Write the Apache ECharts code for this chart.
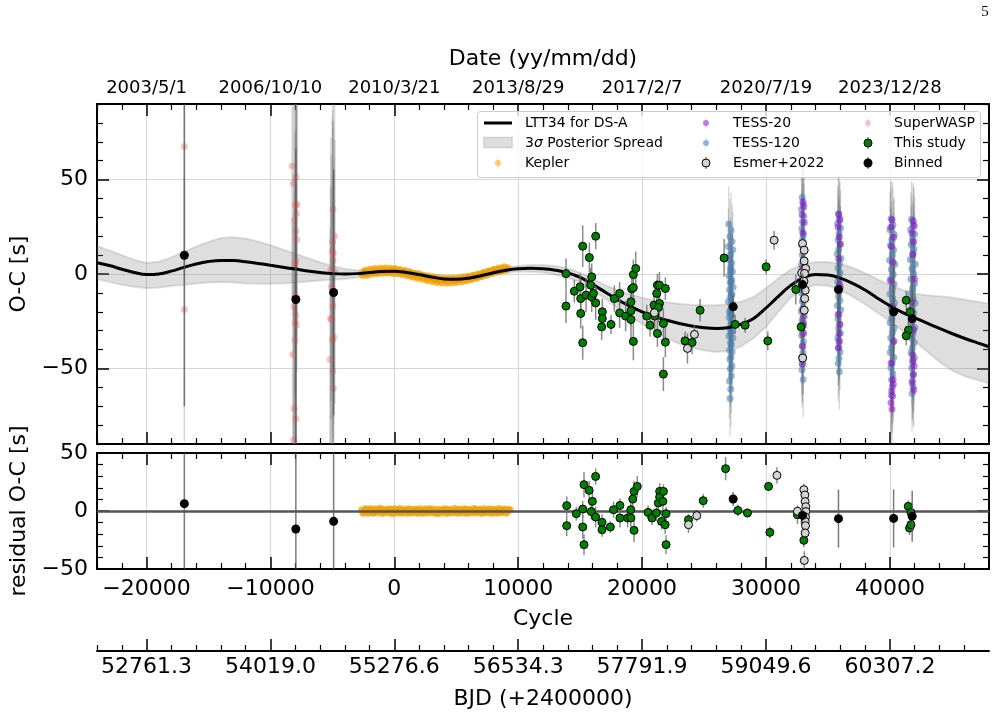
<!DOCTYPE html>
<html><head><meta charset="utf-8">
<script src="https://cdn.jsdelivr.net/npm/echarts@6/dist/echarts.min.js"></script>
<style>html,body{margin:0;padding:0;background:#fff}#c{width:1001px;height:721px}</style>
</head><body><div id="c"></div>
<script>
// ---------------- tick labels ----------------
const cycleMajor = [-20000,-10000,0,10000,20000,30000,40000];
const cycleMinor = [-24000,-22000,-18000,-16000,-14000,-12000,-8000,-6000,-4000,-2000,2000,4000,6000,8000,12000,14000,16000,18000,22000,24000,26000,28000,32000,34000,36000,38000,42000,44000,46000];
const dateLabels = ['2003/5/1','2006/10/10','2010/3/21','2013/8/29','2017/2/7','2020/7/19','2023/12/28'];
const bjdLabels = ['52761.3','54019.0','55276.6','56534.3','57791.9','59049.6','60307.2'];
const ocMajor = [-50,0,50];
const ocMinor = [-90,-80,-70,-60,-40,-30,-20,-10,10,20,30,40,60,70,80,90];
const resMajor = [-50,0,50];
const resMinor = [-40,-30,-20,-10,10,20,30,40];

// ---------------- model curve & 3-sigma band ----------------
const modelCycle = [-24000,-23000,-22000,-21000,-20000,-19000,-18000,-17000,-16000,-15000,-14000,-13000,-12000,-11000,-10000,-9000,-8000,-7000,-6000,-5000,-4000,-3000,-2000,-1000,0,1000,2000,3000,4000,5000,6000,7000,8000,9000,10000,11000,12000,13000,14000,15000,16000,17000,18000,19000,20000,21000,22000,23000,24000,25000,26000,27000,28000,29000,30000,31000,32000,33000,34000,35000,36000,37000,38000,39000,40000,41000,42000,43000,44000,45000,46000,47000,48000];
const modelOC = [6.0,4.5,2.5,0.8,-0.3,0.0,1.5,3.5,5.3,6.6,7.2,7.1,6.5,5.6,4.6,3.6,2.6,1.6,0.8,0.2,0.0,0.2,0.8,1.3,1.5,0.8,-0.3,-1.6,-2.6,-2.8,-2.2,-0.9,0.7,2.0,2.8,3.0,2.8,2.0,0.6,-1.8,-5.5,-9.5,-13.5,-17.0,-20.0,-22.5,-24.5,-26.2,-27.5,-28.4,-28.8,-28.3,-26.5,-23.5,-18.0,-11.8,-6.0,-2.0,-0.3,-0.5,-2.2,-5.0,-8.5,-12.8,-16.8,-20.3,-23.2,-26.0,-28.8,-31.5,-34.0,-36.3,-38.5];
const bandUpper = [14.8,12.5,10.0,7.5,5.8,6.5,8.8,11.7,14.5,17.0,19.0,19.5,18.8,17.2,15.3,13.0,10.8,8.5,6.2,4.3,2.8,2.0,2.3,2.7,2.9,2.3,1.2,-0.2,-1.2,-1.4,-0.8,0.5,2.1,3.4,4.3,4.8,4.8,4.2,3.0,0.6,-2.6,-5.8,-8.5,-10.8,-12.5,-14.0,-15.0,-15.8,-16.3,-16.6,-16.6,-16.0,-14.6,-12.2,-7.5,-2.2,2.3,5.0,6.4,6.4,5.5,3.3,0.5,-2.8,-5.8,-8.3,-10.4,-11.3,-11.8,-12.5,-13.5,-14.6,-15.8];
const bandLower = [-2.7,-4.3,-5.7,-6.8,-7.5,-7.2,-6.4,-5.8,-5.0,-4.5,-4.3,-4.5,-5.0,-5.2,-5.2,-5.0,-4.5,-4.0,-3.5,-3.0,-2.6,-1.8,-0.7,-0.1,0.1,-0.7,-1.8,-3.0,-4.0,-4.2,-3.6,-2.3,-0.7,0.6,1.3,1.2,0.8,-0.4,-2.0,-4.5,-8.5,-13.0,-18.0,-22.5,-26.5,-30.5,-34.0,-37.0,-39.0,-40.5,-41.3,-40.8,-38.3,-34.0,-28.0,-20.0,-12.5,-8.0,-5.8,-6.2,-8.5,-12.0,-16.0,-20.5,-25.0,-30.0,-35.5,-41.0,-46.5,-51.0,-54.0,-56.0,-58.0];

// ---------------- observations: [cycle, O-C] ----------------
const superwasp = [[-16950,67.5],[-16950,-18.8],
 [-8250,57.2],[-8150,47.9],[-7950,51.4],[-7850,36.9],[-7980,36.4],[-7900,32.0],[-8060,28.5],[-7940,22.8],[-7880,18.2],[-7960,6.9],[-8020,5.0],[-7980,-11.2],[-8100,-17.4],[-7950,-21.8],[-8000,-25.3],[-7920,-27.1],[-8010,-35.0],[-8210,-42.6],[-8080,-71.2],[-7950,-76.5],[-8130,-87.9],
 [-4950,34.3],[-4830,20.0],[-4980,17.0],[-5010,12.2],[-4920,10.8],[-4950,7.3],[-5120,2.4],[-4800,1.1],[-5100,-6.8],[-4900,-9.5],[-4960,-17.0],[-5150,-23.5],[-5070,-24.1],[-4890,-33.3],[-5000,-35.0],[-5180,-45.2],[-4970,-51.4],[-4930,-60.6]];
const kepler = [[-2650,0.4],[-2550,-0.8],[-2450,1.2],[-2350,2.0],[-2250,0.2],[-2150,-0.6],[-2050,1.6],[-1950,2.6],[-1850,0.9],[-1750,0.0],[-1650,1.8],[-1550,2.9],[-1450,0.7],[-1350,0.2],[-1250,1.9],[-1150,3.0],[-1050,1.1],[-950,0.4],[-850,2.2],[-750,3.2],[-650,1.0],[-550,0.5],[-450,2.0],[-350,3.1],[-250,1.2],[-150,0.3],[-50,2.3],[50,2.9],[150,1.0],[250,0.1],[350,1.8],[450,2.4],[550,0.6],[650,-0.4],[750,1.5],[850,1.9],[950,0.2],[1050,-0.9],[1150,1.0],[1250,1.2],[1350,-0.6],[1450,-1.6],[1550,0.4],[1650,0.2],[1750,-1.2],[1850,-2.3],[1950,0.1],[2050,-0.6],[2150,-1.5],[2250,-2.8],[2350,-0.6],[2450,-1.4],[2550,-2.2],[2650,-3.5],[2750,-1.1],[2850,-2.2],[2950,-2.6],[3050,-4.0],[3150,-1.5],[3250,-2.7],[3350,-3.1],[3450,-4.5],[3550,-2.0],[3650,-3.3],[3750,-3.4],[3850,-4.8],[3950,-2.2],[4050,-3.0],[4150,-3.6],[4250,-4.9],[4350,-2.3],[4450,-3.1],[4550,-3.5],[4650,-4.7],[4750,-2.1],[4850,-3.0],[4950,-3.4],[5050,-4.4],[5150,-2.0],[5250,-2.6],[5350,-3.1],[5450,-4.1],[5550,-1.6],[5650,-2.2],[5750,-2.8],[5850,-3.6],[5950,-1.2],[6050,-1.7],[6150,-2.3],[6250,-3.0],[6350,-0.6],[6450,-0.9],[6550,-1.7],[6650,-2.3],[6750,0.0],[6850,-0.3],[6950,-1.0],[7050,-1.5],[7150,0.7],[7250,0.6],[7350,-0.2],[7450,-0.6],[7550,1.4],[7650,1.6],[7750,0.5],[7850,0.3],[7950,2.0],[8050,2.5],[8150,1.0],[8250,1.1],[8350,2.6],[8450,3.2],[8550,1.5],[8650,1.7],[8750,3.0],[8850,3.8],[8950,2.0],[9050,2.4],[9150,3.3]];
const tess120 = [
 [26990,26.5],[27180,23.1],[27080,19.8],[27260,17.2],[26960,14.6],[27320,12.9],[27130,10.1],[27040,7.6],[27230,5.8],[27150,3.3],[27290,1.2],[27010,-0.9],[27200,-3.1],[27110,-4.6],[27340,-7.0],[27060,-8.3],[27250,-10.7],[27140,-12.1],[26970,-14.5],[27300,-15.8],[27190,-18.2],[27080,-19.4],[27220,-21.9],[27030,-23.0],[27280,-25.4],[27160,-26.6],[27100,-29.1],[27240,-30.3],[27010,-32.8],[27330,-33.9],[27130,-36.4],[27210,-37.5],[27060,-40.2],[27270,-41.1],[27170,-44.0],[27090,-45.3],[27250,-48.6],[27120,-50.1],[27200,-54.0],[27050,-56.6],[27150,-61.0],[27100,-65.9],[27230,-3.9],[27070,-20.6],[27180,-31.5],[27120,1.9],[27210,-11.4],
 [32920,40.6],[33000,37.0],[32860,34.2],[33050,30.5],[32950,27.6],[32890,24.1],[33030,21.0],[32970,18.8],[32860,15.3],[33080,12.9],[32930,10.2],[33000,7.6],[32870,5.0],[33050,2.7],[32950,0.1],[32900,-2.6],[33020,-4.9],[32970,-7.5],[32880,-10.1],[33060,-12.0],[32940,-14.6],[33010,-17.7],[32860,-19.8],[32980,-22.9],[32910,-24.7],[33050,-27.3],[32950,-30.8],[32880,-32.6],[33020,-35.9],[32930,-38.1],[32990,-41.6],[32870,-44.0],[32960,-47.9],[32910,-50.7],[33000,-55.8],[32940,-8.8],[33030,-25.8],
 [35850,32.0],[35950,29.4],[35780,26.8],[36020,24.3],[35900,21.5],[35820,18.1],[35990,15.9],[35870,13.0],[35760,10.6],[36050,8.2],[35930,5.4],[35810,3.1],[35980,0.7],[35880,-1.8],[35790,-4.2],[36010,-6.9],[35900,-9.1],[35840,-11.8],[35960,-14.0],[35770,-16.7],[36030,-18.9],[35880,-21.6],[35820,-23.8],[35940,-26.5],[35860,-28.7],[36000,-31.4],[35800,-33.9],[35910,-36.2],[35850,-39.0],[35970,-41.3],[35890,-44.5],[35830,-47.2],[35920,-51.8],
 [40100,29.3],[40250,26.0],[40000,23.4],[40350,20.9],[40150,18.1],[40050,15.2],[40300,12.8],[40200,10.0],[39980,7.3],[40400,5.1],[40120,2.4],[40270,-0.3],[40060,-2.7],[40330,-5.4],[40180,-7.8],[40010,-10.6],[40230,-13.0],[40380,-15.5],[40090,-18.3],[40290,-20.7],[40150,-23.4],[40020,-25.8],[40340,-28.6],[40210,-31.0],[40070,-33.7],[40260,-36.2],[40130,-38.9],[40030,-41.5],[40310,-44.2],[40190,-46.9],[40080,-49.6],[40240,-52.8],[40140,-56.0],[40200,-59.7],[40110,-64.0],
 [41750,29.0],[41900,26.3],[41680,23.5],[42000,21.0],[41820,18.4],[41720,15.6],[41950,13.1],[41860,10.5],[41650,7.7],[42050,5.2],[41780,2.8],[41920,0.1],[41700,-2.6],[41990,-5.0],[41840,-7.7],[41670,-10.3],[41880,-12.8],[42030,-15.4],[41760,-18.1],[41940,-20.6],[41810,-23.3],[41690,-25.9],[42010,-28.4],[41870,-31.1],[41730,-33.7],[41960,-36.3],[41800,-39.0],[41700,-41.6],[41980,-44.4],[41850,-47.0],[41760,-49.8],[41910,-53.1],[41820,-56.5],[41880,-59.8],[41790,-63.2]];
const tess20 = [
 [32980,38.3],[33050,35.5],[32920,31.4],[33090,27.2],[32970,21.8],[33030,12.4],[32940,3.0],[33060,-5.8],[33000,-13.3],[32950,-18.6],[33070,-22.4],[32980,-26.1],[33040,-31.5],[32960,-38.2],[33010,-43.9],[32930,-47.5],
 [35880,31.5],[35960,28.4],[35820,24.9],[35920,19.6],[35990,15.7],[35860,8.1],[35940,-5.2],[35830,-21.3],[35970,-26.8],[35890,-31.5],[35910,-35.4],[35850,-39.0],
 [40180,28.7],[40080,24.8],[40300,19.5],[40120,14.6],[40240,6.3],[40050,-3.7],[40200,-17.2],[40330,-35.5],[40100,-47.3],[40260,-55.9],[40150,-61.8],[40220,-64.6],[40090,-68.2],[40170,-71.5],[40280,-58.4],
 [41880,28.2],[41960,25.4],[41780,21.7],[41920,16.9],[41850,10.3],[41990,-2.6],[41760,-14.8],[41900,-29.5],[41830,-42.7],[41950,-48.9],[41870,-53.3],[41800,-57.6],[41930,-61.4],[41850,-45.6]];
// [cycle, O-C, error]
const thisStudy = [[13857,0.2,8],[13857,-17.0,9],[14529,-9.1,6],[14990,-6.8,7],[15044,-20.9,8],[15205,14.7,11],[15205,-36.4,9],[15044,-13.0,10],[15474,-11.2,9],[15743,8.7,8],[15850,-5.9,9],[15931,-1.5,7],[15931,-12.1,8],[16254,20.0,7],[16254,-15.3,9],[16070,-10.3,6],[16790,-20.0,7],[16790,-23.6,6],[16737,-28.0,7],[17490,-26.7,5],[17758,-13.0,7],[18186,-10.3,6],[18186,-20.6,8],[18671,-22.3,8],[19101,-24.1,10],[19101,-19.5,8],[19101,-14.7,8],[19156,-7.9,8],[19290,-7.2,9],[19293,-0.3,8],[19485,2.9,9],[19293,-35.7,10],[20373,-22.3,6],[20641,-27.1,6],[20964,-16.5,7],[21020,-22.3,8],[21181,-10.3,7],[21234,-5.9,6],[21400,-5.9,7],[21400,-15.6,8],[21320,-17.7,8],[21234,-31.5,7],[21716,-26.2,8],[21878,-7.7,6],[21878,-36.1,8],[21716,-53.0,9],[23467,-35.4,5],[24032,-36.3,6],[24680,-19.2,6],[26619,8.5,10],[27507,-26.7,5],[28315,-27.1,4],[30011,3.8,4],[30145,-35.4,5],[32406,-8.2,8],[32836,-28.0,6],[41316,-13.9,5],[41640,-20.0,6],[41505,-29.7,5],[41316,-32.7,5]];
const esmer = [[20990,-20.5,5],[23659,-39.4,8],[24224,-32.0,5],[30656,17.9,5],[32950,16.1,5],[33080,12.6,5],[33080,6.9,5],[33200,2.9,4],[32880,0.6,4],[33110,0.3,4],[33060,-3.8,4],[33170,-8.6,5],[33130,-13.0,5],[33090,-19.2,6],[32960,-44.5,8]];
const binned = [[-16950,9.9,80],[-7950,-13.5,80],[-4900,-9.8,65],[27350,-17.4,6],[32950,-5.6,6],[35850,-8.2,25],[40300,-20.0,25],[41800,-23.6,22]];
// typical errors of dense data sets
const WASP_ERR = 70, TESS_ERR = 20, KEPLER_ERR = 1.5;

// ---------------- residuals: [cycle, residual, error] ----------------
const keplerRes = [[-2650,0.8],[-2550,-1.9],[-2450,-1.0],[-2350,1.9],[-2250,1.5],[-2150,-2.2],[-2050,-0.4],[-1950,2.1],[-1850,0.6],[-1750,-2.0],[-1650,-1.3],[-1550,1.7],[-1450,1.1],[-1350,-1.8],[-1250,-0.2],[-1150,2.3],[-1050,1.4],[-950,-2.1],[-850,-0.9],[-750,1.8],[-650,0.3],[-550,-1.7],[-450,1.2],[-350,2.0],[-250,-1.1],[-150,-2.3],[-50,0.9],[50,1.9],[150,-0.5],[250,-1.9],[350,1.3],[450,2.2],[550,-1.2],[650,-2.0],[750,0.4],[850,1.7],[950,-0.7],[1050,-2.2],[1150,1.0],[1250,2.0],[1350,-1.4],[1450,-1.8],[1550,0.2],[1650,1.6],[1750,1.1],[1850,-2.1],[1950,-0.8],[2050,1.9],[2150,0.5],[2250,-1.9],[2350,-1.5],[2450,1.7],[2550,0.9],[2650,-2.0],[2750,-0.3],[2850,2.1],[2950,1.2],[3050,-1.8],[3150,-1.0],[3250,1.8],[3350,0.1],[3450,-2.3],[3550,-1.6],[3650,1.5],[3750,0.7],[3850,-1.9],[3950,-0.5],[4050,2.0],[4150,1.3],[4250,-2.1],[4350,-1.2],[4450,1.6],[4550,0.4],[4650,-1.8],[4750,-0.8],[4850,2.2],[4950,1.0],[5050,-2.0],[5150,-1.4],[5250,1.7],[5350,0.6],[5450,-1.9],[5550,-0.2],[5650,2.0],[5750,1.1],[5850,-2.2],[5950,-1.1],[6050,1.8],[6150,0.3],[6250,-1.7],[6350,-0.9],[6450,2.1],[6550,1.2],[6650,-2.0],[6750,-0.4],[6850,1.6],[6950,0.8],[7050,-2.1],[7150,-1.3],[7250,1.9],[7350,0.5],[7450,-1.8],[7550,-0.6],[7650,2.0],[7750,1.0],[7850,-2.2],[7950,-1.0],[8050,1.7],[8150,0.2],[8250,-1.9],[8350,-1.2],[8450,2.1],[8550,0.9],[8650,-1.7],[8750,-0.5],[8850,1.8],[8950,1.1],[9050,-2.0],[9150,-0.3],[9250,1.6],[9350,0.9]];
const thisStudyRes = [[13914,4.6,8],[13914,-12.7,9],[14690,-2.3,6],[15206,1.7,7],[15310,22.7,11],[15310,-29.0,9],[15206,-13.8,10],[15726,17.8,8],[15985,8.3,9],[15900,-0.5,7],[16247,29.8,7],[16247,-5.2,9],[16764,-9.8,7],[16764,-16.1,6],[17436,-13.8,5],[17694,1.1,7],[18210,4.8,6],[18210,-6.0,8],[18832,-6.0,8],[19090,1.1,8],[19090,-6.0,8],[19245,10.3,8],[19350,16.9,9],[19608,21.2,9],[19350,-16.7,10],[20480,-1.2,6],[20795,-6.0,6],[21158,-1.7,7],[21312,6.9,6],[21417,16.9,7],[21417,12.1,8],[21675,8.3,8],[21570,-9.0,7],[21934,-2.3,6],[21934,-29.0,8],[21720,16.9,6],[21860,-11.8,8],[23744,-7.5,5],[24931,8.9,6],[26740,36.5,10],[27726,0.5,5],[28502,-1.7,4],[30206,21.2,4],[30311,-18.4,5],[32540,-3.2,8],[33057,-25.3,6],[41481,4.0,5],[41586,-14.7,6],[41700,-11.8,5],[41700,-1.2,5]];
const esmerRes = [[23744,-11.8,7],[24414,-4.0,5],[30883,30.7,7],[33057,18.4,5],[33140,13.8,5],[33160,8.1,5],[33210,3.7,4],[32540,-0.2,4],[33220,-0.5,4],[33190,-5.3,4],[33160,-9.0,5],[33190,-12.7,5],[33160,-19.0,6],[33090,-42.6,8]];
const binnedRes = [[-16950,6.3,80],[-7950,-15.5,80],[-4900,-8.9,65],[27350,10.3,6],[32950,-3.8,6],[35850,-6.6,25],[40300,-6.4,25],[41800,-4.6,22]];

// ---------------- chart ----------------
const FONT = 'DejaVu Sans';
const X_MIN = -24000, X_MAX = 48000;
const chart = echarts.init(document.getElementById('c'), null, {renderer:'canvas'});
const minus = v => v < 0 ? '\u2212' + Math.abs(v) : String(v);

function ax(o){
  const major = !!o.major;
  return {
    type:'value', gridIndex:o.g, position:o.pos, min:o.min, max:o.max,
    axisLine:{show:major, onZero:false, lineStyle:{color:'#000', width:2}},
    axisTick:{show:true, inside:true, length: major ? 12 : 6, customValues:o.vals,
              lineStyle:{color:'#000', width: major ? 1.5 : 1.2}},
    axisLabel:{show:!!o.fmt, customValues:o.vals, formatter:o.fmt, color:'#000',
               fontFamily:FONT, fontSize:o.fs || 22, margin:o.margin == null ? 9 : o.margin},
    splitLine:{show:!!o.split, lineStyle:{color:'#d6d6d6', width:1}},
    name:o.name || '', nameLocation:'middle', nameGap:o.gap || 0,
    nameTextStyle:{fontFamily:FONT, fontSize:22, color:'#000'}
  };
}
const idxLabel = arr => v => { const i = cycleMajor.indexOf(v); return i >= 0 ? arr[i] : ''; };

const xAxes = [
  ax({g:0,pos:'bottom',min:X_MIN,max:X_MAX,major:true,vals:cycleMajor,split:true}),
  ax({g:0,pos:'bottom',min:X_MIN,max:X_MAX,vals:cycleMinor}),
  ax({g:0,pos:'top',min:X_MIN,max:X_MAX,major:true,vals:cycleMajor,fmt:idxLabel(dateLabels),fs:18,margin:7,name:'Date (yy/mm/dd)',gap:34}),
  ax({g:0,pos:'top',min:X_MIN,max:X_MAX,vals:cycleMinor}),
  ax({g:1,pos:'bottom',min:X_MIN,max:X_MAX,major:true,vals:cycleMajor,split:true,fmt:minus,margin:9,name:'Cycle',gap:39}),
  ax({g:1,pos:'bottom',min:X_MIN,max:X_MAX,vals:cycleMinor}),
  ax({g:1,pos:'top',min:X_MIN,max:X_MAX,major:true,vals:cycleMajor}),
  ax({g:1,pos:'top',min:X_MIN,max:X_MAX,vals:cycleMinor}),
  ax({g:2,pos:'bottom',min:X_MIN,max:X_MAX,major:true,vals:cycleMajor,fmt:idxLabel(bjdLabels),margin:5,name:'BJD (+2400000)',gap:37}),
  ax({g:2,pos:'bottom',min:X_MIN,max:X_MAX,vals:cycleMinor})
];
const yAxes = [
  ax({g:0,pos:'left',min:-90,max:90,major:true,vals:ocMajor,split:true,fmt:minus,name:'O-C [s]',gap:62}),
  ax({g:0,pos:'left',min:-90,max:90,vals:ocMinor}),
  ax({g:0,pos:'right',min:-90,max:90,major:true,vals:ocMajor}),
  ax({g:0,pos:'right',min:-90,max:90,vals:ocMinor}),
  ax({g:1,pos:'left',min:-50,max:50,major:true,vals:resMajor,fmt:minus,name:'residual O-C [s]',gap:62}),
  ax({g:1,pos:'left',min:-50,max:50,vals:resMinor}),
  ax({g:1,pos:'right',min:-50,max:50,major:true,vals:resMajor}),
  ax({g:1,pos:'right',min:-50,max:50,vals:resMinor}),
  {type:'value', gridIndex:2, show:false, min:0, max:1}
];

function errSeries(data, xi, yi, color, width, z){
  return {type:'custom', xAxisIndex:xi, yAxisIndex:yi, clip:true, z:z, silent:true,
    dimensions:['x','y','e'], encode:{x:0, y:1}, data:data,
    renderItem:(p, api) => {
      const c = api.value(0), v = api.value(1), e = api.value(2);
      const a = api.coord([c, v - e]), b = api.coord([c, v + e]);
      return {type:'line', shape:{x1:a[0], y1:a[1], x2:b[0], y2:b[1]},
              style:{stroke:color, lineWidth:width}};
    }};
}
function scat(data, xi, yi, size, color, border, z){
  return {type:'scatter', xAxisIndex:xi, yAxisIndex:yi, z:z, silent:true, symbol:'circle',
    symbolSize:size, data:data.map(d => [d[0], d[1]]),
    itemStyle:{color:color, borderColor:border || 'transparent', borderWidth:border ? 1 : 0, opacity:1}};
}
const withErr = (arr, e) => arr.map(d => [d[0], d[1], e]);

const bandSeries = {
  type:'custom', xAxisIndex:0, yAxisIndex:0, clip:true, z:1, silent:true,
  data:[[0,0]], encode:{x:0,y:1},
  renderItem:(p, api) => {
    const up = modelCycle.map((c,i) => api.coord([c, bandUpper[i]]));
    const lo = modelCycle.map((c,i) => api.coord([c, bandLower[i]]));
    const poly = up.concat(lo.slice().reverse());
    return {type:'group', children:[
      {type:'polygon', shape:{points:poly}, style:{fill:'rgba(128,128,128,0.26)'}},
      {type:'polyline', shape:{points:up}, style:{stroke:'rgba(128,128,128,0.22)', lineWidth:2, fill:null}},
      {type:'polyline', shape:{points:lo}, style:{stroke:'rgba(128,128,128,0.22)', lineWidth:2, fill:null}}
    ]};
  }
};

const KEP_COLOR = 'rgba(240,160,0,0.7)';
const series = [
  bandSeries,
  errSeries(withErr(superwasp, WASP_ERR), 0, 0, 'rgba(110,110,110,0.28)', 1.5, 2),
  scat(superwasp, 0, 0, 7, 'rgba(235,90,90,0.35)', null, 3),
  errSeries(withErr(kepler, KEPLER_ERR), 0, 0, 'rgba(255,165,0,0.5)', 1, 2),
  scat(kepler, 0, 0, 7, KEP_COLOR, null, 3),
  errSeries(withErr(tess120, TESS_ERR), 0, 0, 'rgba(110,110,110,0.3)', 1.2, 2),
  errSeries(withErr(tess20, TESS_ERR), 0, 0, 'rgba(110,110,110,0.3)', 1.2, 2),
  scat(tess120, 0, 0, 7, 'rgba(70,130,180,0.55)', null, 3),
  scat(tess20, 0, 0, 7, 'rgba(148,0,211,0.5)', null, 3),
  {type:'line', xAxisIndex:0, yAxisIndex:0, z:4, silent:true, smooth:0.4, showSymbol:false, symbol:'none',
   data:modelCycle.map((c,i) => [c, modelOC[i]]), lineStyle:{color:'#000', width:3}},
  errSeries(thisStudy, 0, 0, 'rgba(110,110,110,0.8)', 1.5, 5),
  scat(thisStudy, 0, 0, 8, '#008000', '#000', 6),
  errSeries(esmer, 0, 0, 'rgba(110,110,110,0.8)', 1.5, 5),
  scat(esmer, 0, 0, 8, '#d3d3d3', '#000', 6),
  errSeries(binned, 0, 0, 'rgba(90,90,90,0.8)', 1.5, 7),
  scat(binned, 0, 0, 9, '#000', null, 8),
  // residual panel
  Object.assign(errSeries(withErr(keplerRes, KEPLER_ERR), 4, 4, 'rgba(255,165,0,0.5)', 1, 2), {
    markLine:{silent:true, symbol:'none', label:{show:false}, animation:false,
      lineStyle:{color:'#555', width:2.5, type:'solid'}, data:[{yAxis:0}]}}),
  scat(keplerRes, 4, 4, 7, KEP_COLOR, null, 3),
  errSeries(thisStudyRes, 4, 4, 'rgba(110,110,110,0.8)', 1.5, 5),
  scat(thisStudyRes, 4, 4, 8, '#008000', '#000', 6),
  errSeries(esmerRes, 4, 4, 'rgba(110,110,110,0.8)', 1.5, 5),
  scat(esmerRes, 4, 4, 8, '#d3d3d3', '#000', 6),
  errSeries(binnedRes, 4, 4, 'rgba(90,90,90,0.8)', 1.5, 7),
  scat(binnedRes, 4, 4, 9, '#000', null, 8)
];

const T = (x, y, text, extra) => Object.assign({type:'text', x:x, y:y, z:102,
  style:Object.assign({text:text, fontFamily:FONT, fontSize:14, fill:'#000', verticalAlign:'middle', align:'left'}, extra || {})});
const dot = (x, y, r, fill, stroke) => ({type:'circle', z:102, shape:{cx:x, cy:y, r:r},
  style:{fill:fill, stroke:stroke || null, lineWidth:stroke ? 1 : 0}});
const vbar = (x, y, h, color) => ({type:'line', z:101, shape:{x1:x, y1:y-h, x2:x, y2:y+h}, style:{stroke:color, lineWidth:1.2}});

const legendGraphic = [
  {type:'rect', z:100, shape:{x:477.5, y:111.5, width:503, height:66, r:3},
   style:{fill:'rgba(255,255,255,0.8)', stroke:'#cccccc', lineWidth:1}},
  {type:'line', z:101, shape:{x1:484, y1:123, x2:512, y2:123}, style:{stroke:'#000', lineWidth:3}},
  {type:'rect', z:101, shape:{x:484, y:137.5, width:28, height:10}, style:{fill:'#dedede', stroke:'#cfcfcf', lineWidth:1.5}},
  vbar(498, 163, 5, 'rgba(255,165,0,0.35)'), dot(498, 163, 3, 'rgba(255,165,0,0.55)'),
  T(525, 123, 'LTT34 for DS-A'),
  T(525, 143, '3{i|σ} Posterior Spread', {rich:{i:{fontStyle:'italic', fontFamily:FONT, fontSize:14}}}),
  T(525, 163, 'Kepler'),
  vbar(706, 123, 5, 'rgba(110,110,110,0.25)'), dot(706, 123, 3, 'rgba(148,0,211,0.5)'),
  vbar(706, 143, 5, 'rgba(110,110,110,0.25)'), dot(706, 143, 3, 'rgba(70,130,180,0.55)'),
  vbar(706, 163, 6, 'rgba(90,90,90,0.9)'), dot(706, 163, 4, '#d3d3d3', '#000'),
  T(733, 123, 'TESS-20'), T(733, 143, 'TESS-120'), T(733, 163, 'Esmer+2022'),
  vbar(868, 123, 5, 'rgba(110,110,110,0.2)'), dot(868, 123, 3, 'rgba(235,90,90,0.3)'),
  vbar(868, 143, 6, 'rgba(90,90,90,0.9)'), dot(868, 143, 4, '#008000', '#000'),
  vbar(868, 163, 6, 'rgba(90,90,90,0.9)'), dot(868, 163, 4.5, '#000'),
  T(894, 123, 'SuperWASP'), T(894, 143, 'This study'), T(894, 163, 'Binned'),
  {type:'text', x:985, y:12, z:102, style:{text:'5', fontFamily:'Liberation Serif', fontSize:15, fill:'#000', verticalAlign:'middle', align:'center'}}
];

chart.setOption({
  animation:false,
  backgroundColor:'#fff',
  grid:[
    {left:97, top:104, width:892, height:340},
    {left:97, top:453, width:892, height:116},
    {left:97, top:640, width:892, height:11}
  ],
  xAxis:xAxes, yAxis:yAxes, series:series, graphic:legendGraphic
});
</script></body></html>
